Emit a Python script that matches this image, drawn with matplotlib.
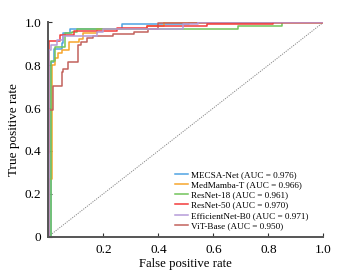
import matplotlib.pyplot as plt

# ROC points (fpr where tpr steps up, tpr level)
mecsa_fpr = [0, 0.008, 0.02, 0.049, 0.055, 0.079, 0.267, 0.51, 1.0]
mecsa_tpr = [0, 0.817, 0.876, 0.903, 0.95, 0.968, 0.99, 1.0, 1.0]

medmamba_fpr = [0, 0.004, 0.012, 0.024, 0.036, 0.049, 0.076, 0.11, 0.127, 0.176, 0.358, 0.42, 1.0]
medmamba_tpr = [0, 0.27, 0.80, 0.833, 0.855, 0.872, 0.91, 0.92, 0.95, 0.97, 0.985, 1.0, 1.0]

resnet18_fpr = [0, 0.008, 0.024, 0.06, 0.085, 0.103, 0.69, 0.849, 1.0]
resnet18_tpr = [0, 0.82, 0.887, 0.95, 0.957, 0.968, 0.985, 1.0, 1.0]

resnet50_fpr = [0, 0, 0.004, 0.043, 0.094, 0.25, 0.36, 0.576, 0.816, 1.0]
resnet50_tpr = [0, 0.39, 0.915, 0.94, 0.96, 0.975, 0.985, 0.99, 1.0, 1.0]

effnet_fpr = [0, 0.004, 0.008, 0.03, 0.055, 0.176, 0.2, 0.49, 0.545, 1.0]
effnet_tpr = [0, 0.87, 0.895, 0.918, 0.938, 0.954, 0.97, 0.993, 1.0, 1.0]

vit_fpr = [0, 0.004, 0.018, 0.049, 0.055, 0.073, 0.109, 0.12, 0.14, 0.164, 0.235, 0.31, 0.363, 0.40, 1.0]
vit_tpr = [0, 0.59, 0.703, 0.766, 0.78, 0.817, 0.895, 0.91, 0.926, 0.935, 0.945, 0.956, 0.971, 0.995, 1.0]

labels = ['MECSA-Net (AUC = 0.976)', 'MedMamba-T (AUC = 0.966)', 'ResNet-18 (AUC = 0.961)',
          'ResNet-50 (AUC = 0.970)', 'EfficientNet-B0 (AUC = 0.971)', 'ViT-Base (AUC = 0.950)']
colors = ['#4fa3e3', '#f6a52c', '#72c35a', '#f23b3b', '#b59bd8', '#c2625c']

curves = [(mecsa_fpr, mecsa_tpr), (medmamba_fpr, medmamba_tpr), (resnet18_fpr, resnet18_tpr),
          (vit_fpr, vit_tpr), (resnet50_fpr, resnet50_tpr), (effnet_fpr, effnet_tpr)]
order = [0, 1, 2, 5, 3, 4]  # draw ViT below ResNet-50, keep legend order

plt.rcParams['font.family'] = 'Liberation Serif'

fig = plt.figure(figsize=(3.5, 2.79), dpi=100)
ax = fig.add_axes([0.138, 0.152, 0.786, 0.768])

ax.plot([0, 1], [0, 1], color='#888888', linestyle=(0, (1.2, 1.2)), linewidth=0.7)
handles = []
for (f, t), i in zip(curves, order):
    h, = ax.plot(f, t, drawstyle='steps-post', color=colors[i], linewidth=1.1, label=labels[i])
    handles.append((i, h))
handles = [h for i, h in sorted(handles, key=lambda p: p[0])]

ax.set_xlim(0, 1)
ax.set_ylim(0, 1)
ax.set_xticks([0.2, 0.4, 0.6, 0.8, 1.0])
ax.set_xticklabels(['0.2', '0.4', '0.6', '0.8', '1.0'])
ax.set_yticks([0, 0.2, 0.4, 0.6, 0.8, 1.0])
ax.set_yticklabels(['0', '0.2', '0.4', '0.6', '0.8', '1.0'])
ax.tick_params(direction='in', length=3, width=0.8, labelsize=9.5, colors='#333333',
               labelcolor='black', pad=5)
for s in ['top', 'right']:
    ax.spines[s].set_visible(False)
for s in ['left', 'bottom']:
    ax.spines[s].set_linewidth(1.4)
    ax.spines[s].set_color('#555555')

ax.set_xlabel('False positive rate', fontsize=9.2, labelpad=2)
ax.set_ylabel('True positive rate', fontsize=9.5, labelpad=3)

ax.legend(handles=handles, loc='lower right', bbox_to_anchor=(0.97, 0.0), frameon=False,
          fontsize=6.6, handlelength=1.5, handletextpad=0.3, labelspacing=0.2, borderaxespad=0.3)

fig.savefig('out.png', dpi=100)
